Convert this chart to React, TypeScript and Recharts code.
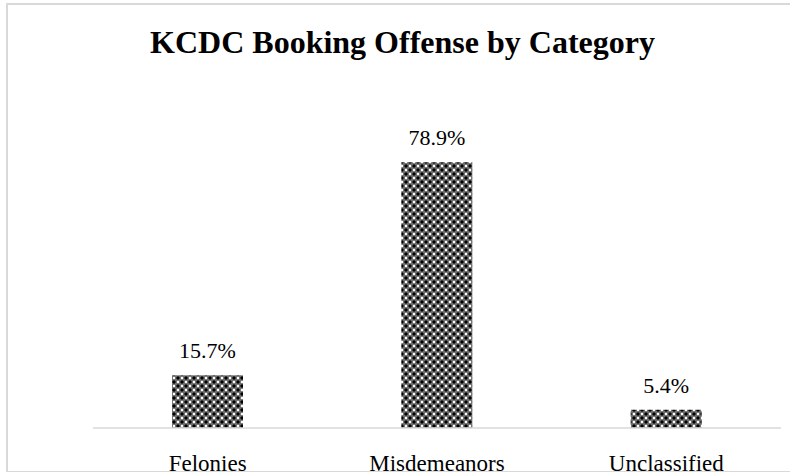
import { BarChart, Bar, XAxis, YAxis, LabelList } from 'recharts';

const categories = ['Felonies', 'Misdemeanors', 'Unclassified'];
const shares = [15.7, 78.9, 5.4];

const data = categories.map((name, i) => ({ name, value: shares[i] }));

const serif = "'Liberation Serif', 'Times New Roman', serif";

const CategoryTick = (props: any) => {
	const { x, y, payload } = props;
	return (
		<text
			x={x}
			y={y + 35}
			textAnchor="middle"
			style={{ fontFamily: serif, fontSize: 23, fill: '#000' }}
		>
			{payload.value}
		</text>
	);
};

const ValueLabel = (props: any) => {
	const { x, y, width, value } = props;
	return (
		<text
			x={x + width / 2}
			y={y - 17}
			textAnchor="middle"
			style={{ fontFamily: serif, fontSize: 22, fill: '#000' }}
		>
			{`${value}%`}
		</text>
	);
};

export default function App() {
	return (
		<div style={{ position: 'absolute', left: 0, top: 0, width: 790, height: 472, background: '#fff', overflow: 'hidden' }}>
			<div
				style={{
					position: 'absolute',
					left: 6,
					top: 3,
					width: 800,
					height: 466,
					border: '2px solid #d9d9d9',
					borderRight: 'none',
				}}
			/>
			<div
				style={{
					position: 'absolute',
					left: 0,
					top: 24,
					width: 805,
					textAlign: 'center',
					fontFamily: serif,
					fontWeight: 'bold',
					fontSize: 32,
					lineHeight: '36px',
					color: '#000',
				}}
			>
				KCDC Booking Offense by Category
			</div>
			<div style={{ position: 'absolute', left: 0, top: 0 }}>
				<BarChart
					width={790}
					height={472}
					data={data}
					margin={{ top: 125, right: 9, left: 93, bottom: 0 }}
				>
					<defs>
						<pattern id="dots" patternUnits="userSpaceOnUse" width={8} height={8}>
							<rect width={8} height={8} fill="#6e6e6e" />
							<polygon points="2,0 3,1 4,2 3,3 2,4 1,3 0,2 1,1" fill="#000" />
							<polygon points="6,4 7,5 8,6 7,7 6,8 5,7 4,6 5,5" fill="#000" />
							<circle cx={6} cy={2} r={1.2} fill="#fff" />
							<circle cx={2} cy={6} r={1.2} fill="#fff" />
						</pattern>
					</defs>
					<XAxis
						dataKey="name"
						height={44}
						tickLine={false}
						axisLine={{ stroke: '#d9d9d9', strokeWidth: 1.5 }}
						tick={<CategoryTick />}
						interval={0}
					/>
					<YAxis hide domain={[0, 90]} />
					<Bar dataKey="value" fill="url(#dots)" barSize={71} isAnimationActive={false}>
						<LabelList dataKey="value" content={<ValueLabel />} />
					</Bar>
				</BarChart>
			</div>
		</div>
	);
}
